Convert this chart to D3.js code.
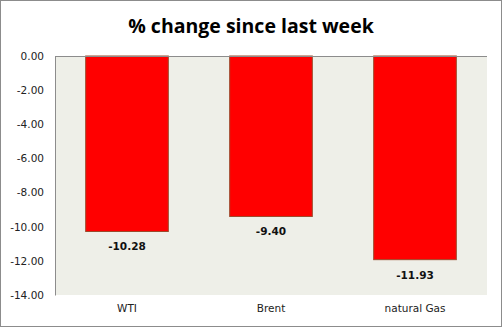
<!DOCTYPE html>
<html>
<head>
<meta charset="utf-8">
<script src="https://cdn.jsdelivr.net/npm/d3@7"></script>
<style>
  html, body { margin: 0; padding: 0; background: #fff; }
  svg { display: block; }
</style>
</head>
<body>
<svg id="chart" width="502" height="328"></svg>
<script>
// Weekly % change by commodity
const categories = ["WTI", "Brent", "natural Gas"];
const values = [-10.28, -9.40, -11.93];
const yTicks = [0, -2, -4, -6, -8, -10, -12, -14];
const title = "% change since last week";

const svg = d3.select("#chart");
const W = 502, H = 328;
const plot = { left: 55, right: 487, top: 56, bottom: 295 };

// two decimals with an ASCII hyphen for negatives
const fmt = d3.formatLocale({ decimal: ".", thousands: ",", grouping: [3], currency: ["", ""], minus: "-" }).format(".2f");

// outer frame
svg.append("rect")
  .attr("x", 0.5).attr("y", 0.5)
  .attr("width", W - 1).attr("height", H - 2)
  .attr("fill", "#fff").attr("stroke", "#8c8c8c").attr("stroke-width", 1);

// plot background
svg.append("rect")
  .attr("x", plot.left).attr("y", plot.top)
  .attr("width", plot.right - plot.left).attr("height", plot.bottom - plot.top)
  .attr("fill", "#eeefe8");

const x = d3.scaleBand()
  .domain(categories)
  .range([plot.left, plot.right])
  .paddingInner(0.426).paddingOuter(0.213);

const y = d3.scaleLinear()
  .domain([0, -14])
  .range([plot.top, plot.bottom]);

// bars
svg.append("g").selectAll("rect")
  .data(values)
  .join("rect")
  .attr("x", (d, i) => x(categories[i]))
  .attr("y", y(0))
  .attr("width", x.bandwidth())
  .attr("height", d => y(d) - y(0))
  .attr("fill", "#ff0000")
  .attr("stroke", "#9c4a2c")
  .attr("stroke-width", 1);

// y axis
const yAxis = d3.axisLeft(y)
  .tickValues(yTicks)
  .tickSize(0)
  .tickPadding(11)
  .tickFormat(fmt);
const gy = svg.append("g")
  .attr("transform", `translate(${plot.left},0)`)
  .call(yAxis);
gy.select(".domain").attr("stroke", "#8c8c8c");
gy.selectAll("text")
  .attr("font-family", "DejaVu Sans, Verdana, sans-serif")
  .attr("font-size", 10.5)
  .attr("fill", "#222");

// zero line
svg.append("line")
  .attr("x1", plot.left).attr("x2", plot.right)
  .attr("y1", y(0) + 0.5).attr("y2", y(0) + 0.5)
  .attr("stroke", "#8c8c8c");

// x category labels
const xAxis = d3.axisBottom(x).tickSize(0).tickPadding(10);
const gx = svg.append("g")
  .attr("transform", `translate(0,${plot.bottom})`)
  .call(xAxis);
gx.select(".domain").remove();
gx.selectAll("text")
  .attr("font-family", "DejaVu Sans, Verdana, sans-serif")
  .attr("font-size", 10.5)
  .attr("fill", "#222");

// value labels
svg.append("g").selectAll("text")
  .data(values)
  .join("text")
  .attr("x", (d, i) => x(categories[i]) + x.bandwidth() / 2)
  .attr("y", d => y(d) + 19)
  .attr("text-anchor", "middle")
  .attr("font-family", "DejaVu Sans, Verdana, sans-serif")
  .attr("font-weight", "bold")
  .attr("font-size", 10.5)
  .attr("fill", "#111")
  .text(d => fmt(d));

// title
svg.append("text")
  .attr("x", 251).attr("y", 33)
  .attr("text-anchor", "middle")
  .attr("font-family", "Open Sans, Liberation Sans, sans-serif")
  .attr("font-weight", "bold")
  .attr("font-size", 19.5)
  .attr("fill", "#000")
  .text(title);
</script>
</body>
</html>
